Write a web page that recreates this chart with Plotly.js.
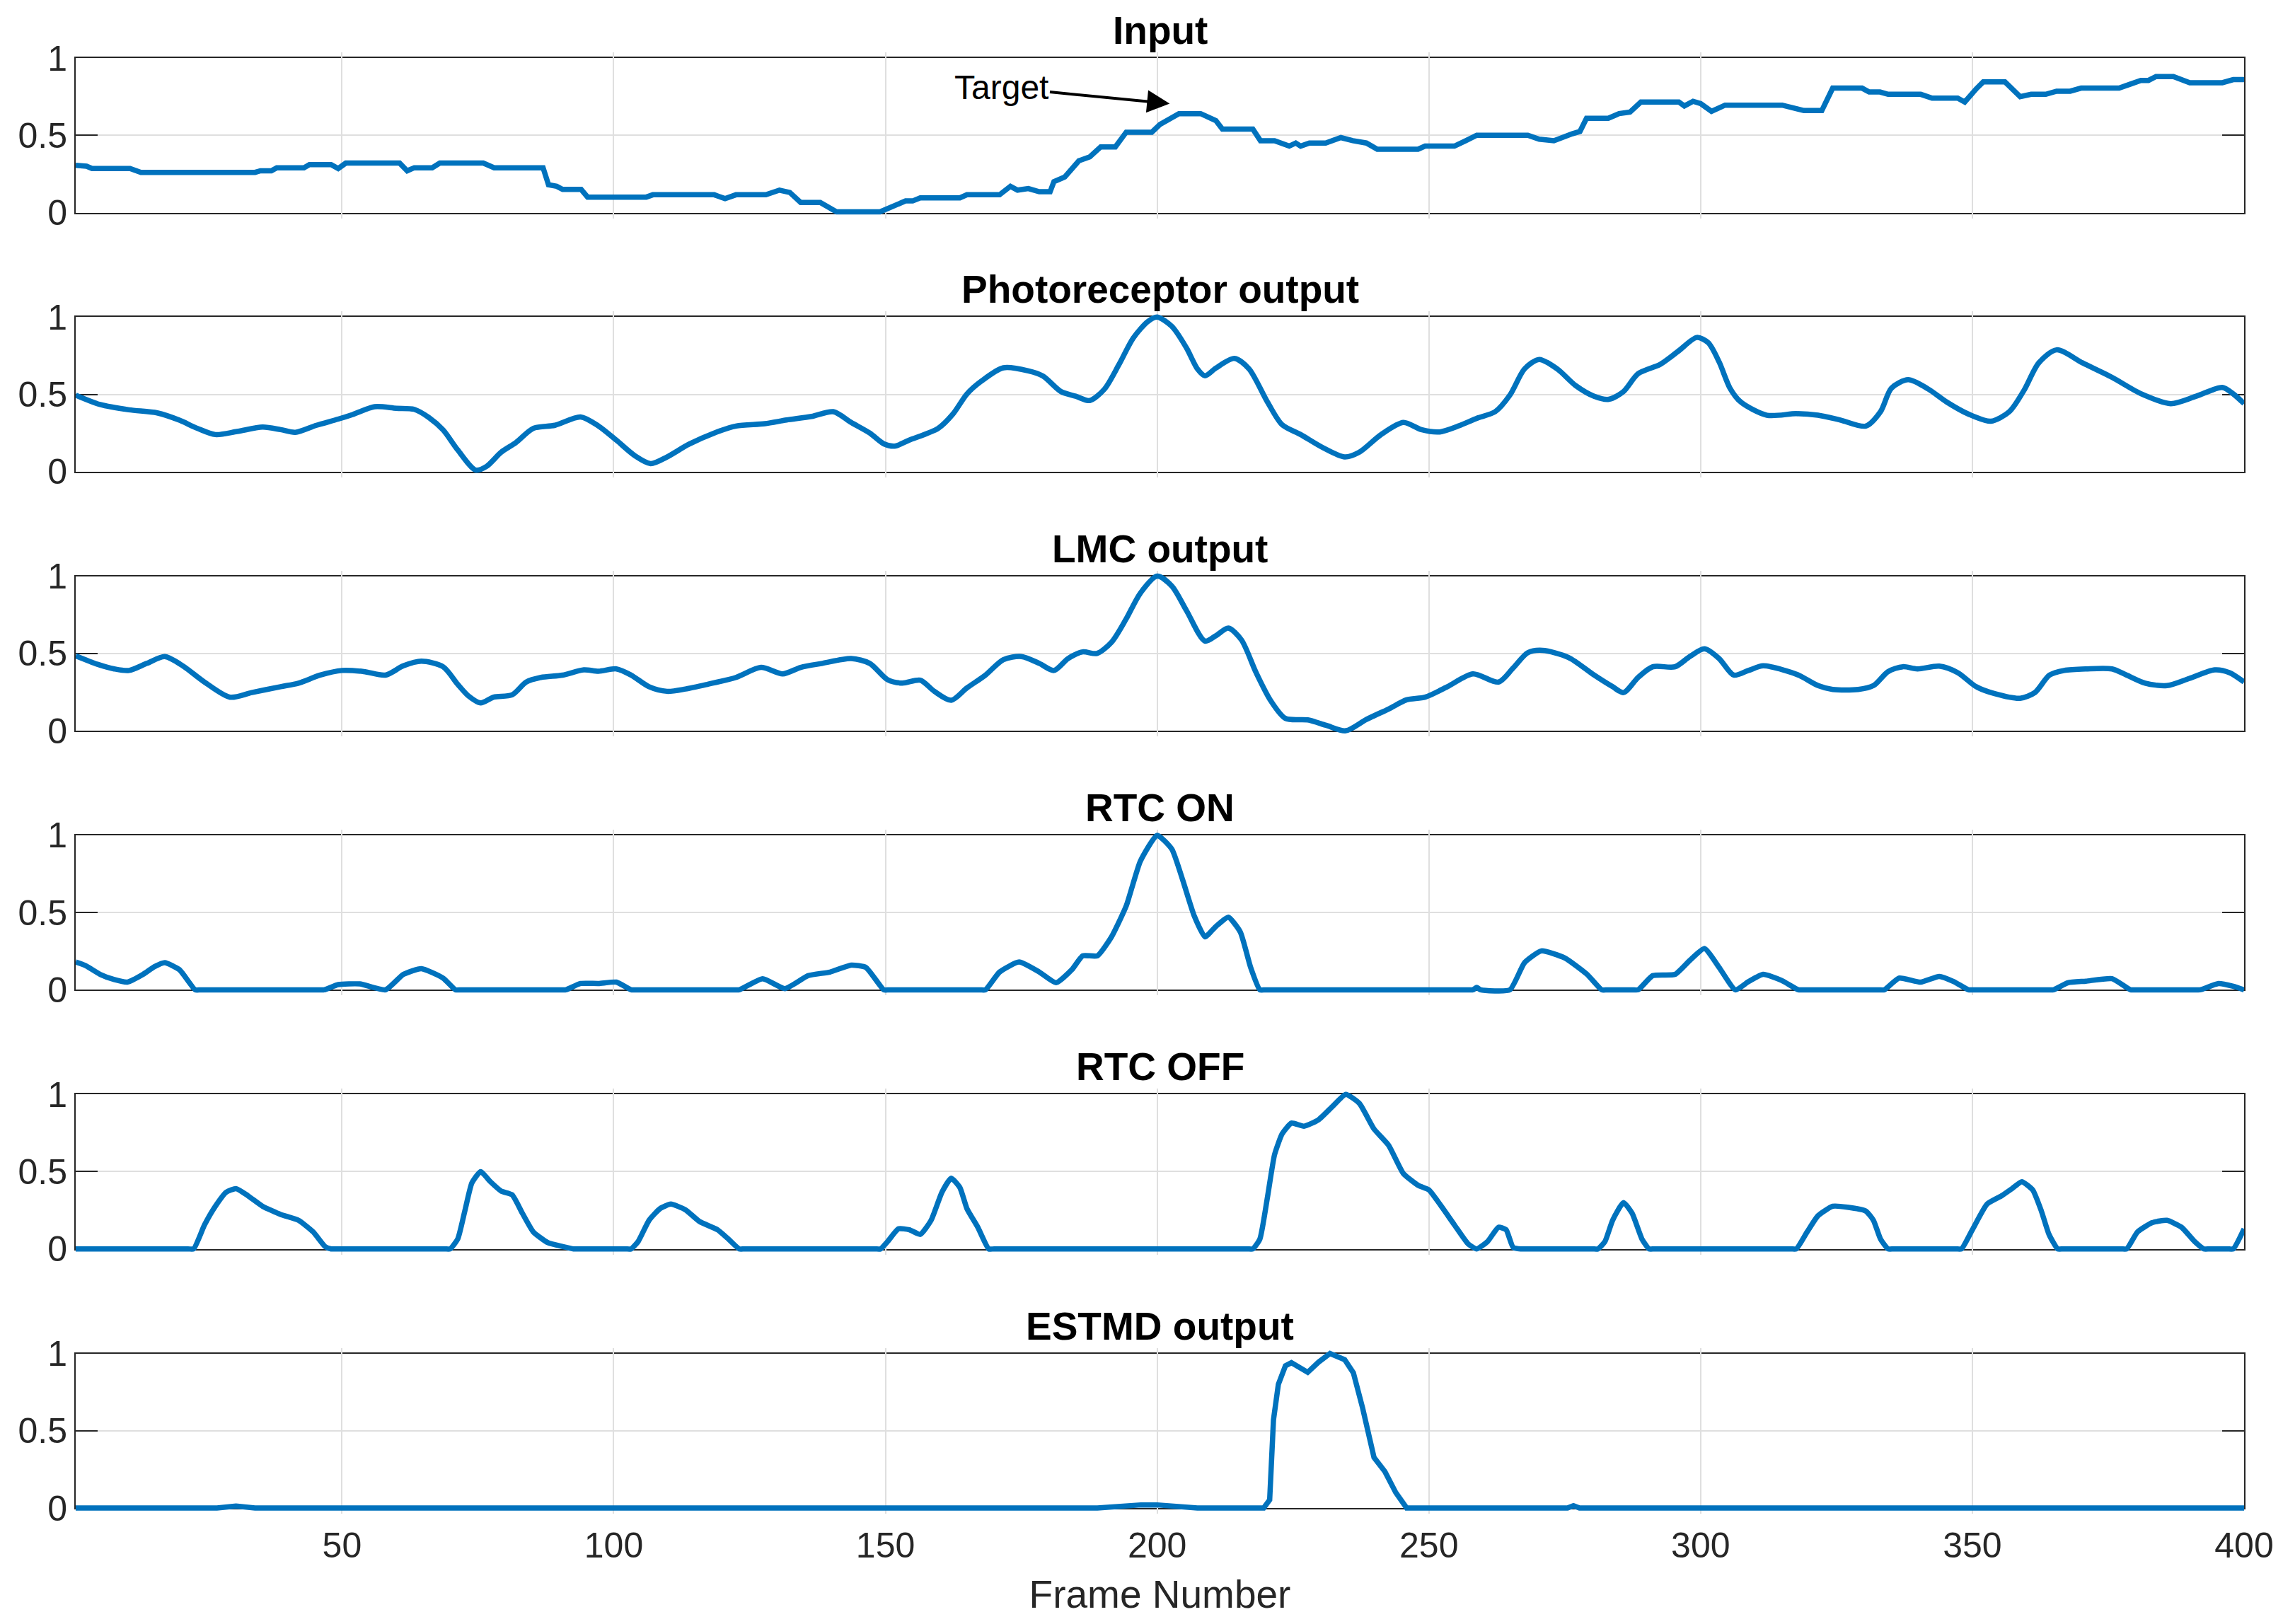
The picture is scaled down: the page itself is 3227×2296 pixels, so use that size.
<!DOCTYPE html>
<html><head><meta charset="utf-8">
<script src="https://cdn.plot.ly/plotly-3.0.1.min.js"></script>
<style>html,body{margin:0;padding:0;background:#fff}#chart{width:3227px;height:2296px}</style>
</head><body><div id="chart"></div>
<script>
const panelTitles = ['Input', 'Photoreceptor output', 'LMC output', 'RTC ON', 'RTC OFF', 'ESTMD output'];
const xTickVals = [50, 100, 150, 200, 250, 300, 350, 400];
const yTickVals = [0, 0.5, 1];
const yTickText = ['0', '0.5', '1'];
const xAxisLabel = 'Frame Number';
const arrowLabel = 'Target';

// [frame, value]
const inputPoints = [[1,0.305],[3,0.30],[4,0.285],[11,0.285],[13,0.26],[34,0.26],[35,0.27],[37,0.27],[38,0.29],[43,0.29],[44,0.31],[48,0.31],[49.3,0.285],[50.7,0.32],[60.6,0.32],[62,0.27],[63.3,0.29],[66.6,0.29],[68,0.32],[76,0.32],[78,0.29],[87,0.29],[88,0.18],[89.5,0.17],[90.6,0.15],[94,0.15],[95.2,0.1],[106,0.1],[107.2,0.115],[118.5,0.115],[120.5,0.09],[122.5,0.115],[128,0.115],[130.5,0.145],[132.4,0.13],[134.4,0.065],[138,0.065],[141,0.005],[149,0.005],[151,0.035],[153.7,0.075],[155,0.075],[156.4,0.095],[163.7,0.095],[165,0.115],[171,0.115],[173,0.17],[174.3,0.145],[176.3,0.155],[178.3,0.135],[180.3,0.135],[181,0.2],[183,0.23],[185.6,0.335],[187.6,0.36],[189.6,0.425],[192.3,0.425],[194.3,0.52],[199,0.52],[200.5,0.57],[202.5,0.61],[204,0.64],[208,0.64],[210.8,0.595],[212,0.54],[217.6,0.54],[219,0.465],[221.6,0.465],[224.3,0.43],[225.5,0.45],[226.4,0.43],[228,0.45],[231,0.45],[233.8,0.485],[236,0.465],[238.5,0.45],[240.5,0.41],[248,0.41],[249.3,0.43],[254.7,0.43],[256.8,0.465],[258.8,0.5],[268.2,0.5],[270.3,0.475],[273,0.465],[274,0.48],[276.4,0.51],[277.8,0.525],[279,0.61],[283,0.61],[285,0.64],[287,0.65],[289,0.715],[296,0.715],[297,0.69],[298.6,0.72],[300,0.705],[302,0.655],[304.5,0.695],[315,0.695],[317,0.68],[319,0.66],[322.3,0.66],[324.3,0.805],[329.7,0.805],[331,0.78],[333,0.78],[334.5,0.765],[340.5,0.765],[342.6,0.74],[347.3,0.74],[348.6,0.715],[350.7,0.8],[352,0.845],[356,0.845],[358.8,0.75],[360.8,0.765],[363.5,0.765],[365.5,0.785],[368,0.785],[370,0.805],[377,0.805],[379,0.83],[381,0.855],[382.4,0.855],[383.8,0.88],[387,0.88],[390,0.84],[396,0.84],[398,0.86],[400,0.86]];

const photoreceptorPoints = [[1,0.495],[5.5,0.434],[10.8,0.40],[16,0.38],[20,0.334],[23.4,0.28],[26.7,0.24],[30.7,0.26],[35.4,0.288],[38.7,0.272],[41.4,0.254],[45.3,0.30],[49.3,0.34],[52,0.37],[56,0.42],[60,0.41],[63.3,0.403],[66,0.35],[68.6,0.27],[71.3,0.14],[74.6,0.01],[76.6,0.034],[79.3,0.126],[82,0.188],[85.2,0.28],[89.2,0.30],[93.9,0.354],[97.2,0.295],[100.5,0.203],[103.9,0.103],[106.8,0.052],[109.8,0.095],[113.8,0.177],[118.5,0.25],[122.5,0.295],[127.8,0.31],[131.8,0.334],[136.4,0.357],[140.4,0.388],[143.7,0.318],[147.1,0.25],[149.7,0.18],[151.7,0.165],[154.3,0.203],[159.7,0.28],[162.4,0.372],[165,0.503],[167.7,0.587],[171.7,0.672],[176.3,0.652],[179,0.618],[182.3,0.518],[185,0.488],[187.6,0.46],[190.3,0.534],[193,0.695],[195.6,0.865],[198.3,0.972],[200,1.0],[202.7,0.94],[205.4,0.80],[207.4,0.665],[208.8,0.62],[210.8,0.67],[214.2,0.733],[216.9,0.665],[220.3,0.45],[223,0.303],[226.4,0.24],[230.4,0.157],[234.5,0.095],[237.2,0.126],[241.2,0.24],[245.3,0.318],[248.6,0.272],[252,0.257],[255.4,0.295],[258.8,0.345],[262.2,0.388],[264.9,0.495],[267.6,0.665],[270.3,0.726],[273.6,0.665],[277,0.557],[280.4,0.488],[283.1,0.468],[285.8,0.518],[288.5,0.634],[292.6,0.695],[295.9,0.78],[299.3,0.868],[301.4,0.834],[303.4,0.71],[305.4,0.54],[307.4,0.45],[312.2,0.365],[317.6,0.375],[321.6,0.365],[325.7,0.334],[330.4,0.295],[333.1,0.388],[335.1,0.54],[338.2,0.595],[341.9,0.534],[345.3,0.45],[349.3,0.372],[353.4,0.326],[356.8,0.388],[359.5,0.526],[362.2,0.703],[365.5,0.788],[370.3,0.703],[375.7,0.61],[381.1,0.503],[386.5,0.44],[391.2,0.488],[396,0.545],[398,0.503],[400,0.44]];

const lmcPoints = [[1,0.485],[5,0.43],[8.1,0.40],[10.8,0.39],[14.1,0.436],[17.4,0.48],[20.7,0.42],[24.7,0.315],[29.4,0.217],[33.4,0.247],[38.7,0.285],[42,0.308],[46,0.36],[50,0.39],[54,0.383],[58,0.36],[61.3,0.42],[64.6,0.45],[68.6,0.414],[71.3,0.30],[73.3,0.224],[75.5,0.18],[77.9,0.217],[81.3,0.232],[83.9,0.315],[86.6,0.345],[90.6,0.36],[94.5,0.394],[97.2,0.385],[100.5,0.40],[103.2,0.36],[106.5,0.285],[109.8,0.255],[113.2,0.27],[117.2,0.30],[122.5,0.345],[127.1,0.41],[131.1,0.368],[134.4,0.41],[138.4,0.436],[143.7,0.467],[147.1,0.436],[150.4,0.33],[153.1,0.308],[156.4,0.327],[159,0.255],[162.1,0.197],[165,0.277],[168.4,0.36],[171.7,0.46],[175,0.48],[178.3,0.436],[181,0.39],[183.6,0.467],[186.3,0.51],[188.9,0.50],[191.6,0.573],[194.3,0.724],[196.9,0.89],[200,1.0],[202.7,0.936],[205.4,0.777],[208.8,0.58],[210.8,0.615],[213.1,0.664],[215.5,0.588],[218.2,0.376],[220.9,0.194],[223.6,0.08],[227.7,0.07],[231.1,0.035],[234.7,0.0],[238.5,0.073],[242.6,0.141],[245.9,0.2],[249.3,0.217],[253.4,0.285],[258.1,0.368],[262.8,0.315],[265.5,0.406],[268.2,0.505],[270.9,0.52],[275.7,0.474],[280.4,0.36],[283.8,0.285],[285.8,0.247],[288.5,0.345],[291.2,0.414],[295.3,0.414],[298,0.48],[300.7,0.53],[303.4,0.467],[306.1,0.36],[308.8,0.39],[311.5,0.42],[315.5,0.39],[318.2,0.357],[321.6,0.292],[324.3,0.267],[329,0.267],[331.8,0.292],[334.5,0.383],[337.2,0.414],[339.9,0.40],[343.9,0.418],[347.3,0.376],[350.7,0.285],[354.1,0.24],[358.8,0.21],[361.5,0.247],[364.2,0.36],[366.9,0.39],[370.9,0.40],[375.7,0.40],[378.4,0.36],[381.8,0.308],[385.8,0.292],[389.9,0.338],[394.6,0.394],[397.3,0.376],[400,0.315]];

const rtcOnPoints = [[1,0.18],[2.8,0.157],[5.5,0.1],[8.1,0.066],[10.5,0.05],[13.4,0.1],[15.5,0.15],[17.4,0.176],[20.1,0.13],[23,0],[24,0],[45.7,0],[46.7,0],[49.3,0.034],[53.3,0.038],[58,0],[61.3,0.1],[64.6,0.137],[68.6,0.076],[70.9,0],[71.9,0],[90.2,0],[91.2,0],[93.9,0.041],[97.2,0.041],[100.5,0.05],[103.2,0],[104.2,0],[122.1,0],[123.1,0],[127.4,0.072],[131.5,0.008],[135.8,0.092],[139.8,0.115],[143.7,0.16],[146.4,0.145],[149.7,0],[150.7,0],[167.4,0],[168.4,0],[171,0.115],[174.6,0.18],[178.3,0.115],[181.4,0.046],[184.3,0.13],[186.3,0.22],[189,0.22],[191.6,0.343],[194.3,0.542],[196.9,0.832],[200,1.0],[202.7,0.91],[204.7,0.71],[206.8,0.48],[208.8,0.343],[210.8,0.41],[213.1,0.47],[215.3,0.374],[217.2,0.145],[218.9,0],[219.9,0],[257.1,0],[258.1,0],[258.8,0.015],[259.5,0],[264.9,0],[267.6,0.176],[270.7,0.252],[275,0.206],[279.1,0.1],[281.8,0],[282.8,0],[287.5,0],[288.5,0],[291.2,0.092],[295.3,0.1],[298,0.19],[300.7,0.267],[303.4,0.145],[306.4,0],[308.8,0.053],[311.5,0.1],[314.9,0.061],[318,0],[319,0],[332.8,0],[333.8,0],[336.5,0.076],[340.5,0.05],[343.9,0.087],[346.6,0.053],[349.3,0],[350.3,0],[363.9,0],[364.9,0],[367.6,0.046],[370.9,0.056],[375.7,0.072],[379.1,0],[380.1,0],[390.9,0],[391.9,0],[395.3,0.041],[398,0.023],[400,0]];

const rtcOffPoints = [[1,0],[21.7,0],[22.7,0],[24.7,0.155],[26.7,0.276],[28.7,0.367],[30.5,0.39],[32.7,0.344],[35.4,0.276],[38.7,0.223],[42,0.185],[44.7,0.11],[46.9,0.015],[48,0],[49,0],[68.9,0],[69.9,0],[71.3,0.064],[72.6,0.245],[73.9,0.427],[75.5,0.5],[77.3,0.435],[79.3,0.374],[81.3,0.35],[83.2,0.23],[85.2,0.11],[87.9,0.04],[90.6,0.015],[92.6,0],[93.6,0],[102.2,0],[103.2,0],[104.5,0.048],[106.5,0.185],[108.5,0.26],[110.5,0.29],[113.2,0.253],[115.8,0.177],[119.1,0.124],[121.1,0.064],[123.1,0],[124.1,0],[148.1,0],[149.1,0],[150.4,0.048],[152.4,0.13],[154.4,0.124],[156.4,0.094],[158.4,0.185],[160.4,0.367],[162.1,0.457],[163.7,0.397],[165,0.26],[167,0.14],[169,0],[170,0],[216.6,0],[217.6,0],[218.9,0.064],[220.3,0.336],[221.6,0.61],[223,0.745],[224.7,0.814],[227,0.794],[229.7,0.836],[232.4,0.927],[234.7,1.0],[237.2,0.942],[239.9,0.776],[242.6,0.67],[245.3,0.488],[248,0.412],[250,0.382],[252,0.29],[254.7,0.155],[257.2,0.033],[258.8,0],[260.8,0.048],[262.8,0.14],[264.2,0.124],[265.5,0.01],[266.9,0],[267.9,0],[280.1,0],[281.1,0],[282.4,0.048],[283.8,0.185],[285.8,0.3],[287.4,0.23],[289.2,0.064],[290.5,0],[291.5,0],[316.6,0],[317.6,0],[319.6,0.11],[321.6,0.215],[324.3,0.276],[327,0.27],[330.4,0.245],[331.8,0.185],[333.1,0.064],[334.5,0],[335.5,0],[347,0],[348,0],[350,0.124],[352.7,0.29],[355.4,0.344],[357.3,0.39],[359.1,0.435],[361.1,0.382],[362.7,0.245],[364.1,0.094],[365.7,0],[366.7,0],[377.4,0],[378.4,0],[380.4,0.11],[383.1,0.17],[385.8,0.185],[388.5,0.14],[390.9,0.048],[392.6,0],[393.6,0],[397,0],[398,0],[400,0.13]];

const estmdPoints = [[1,0],[27,0],[30.5,0.012],[34,0],[189,0],[193,0.012],[197,0.02],[200,0.02],[203.4,0.01],[207.4,0],[219.6,0],[220.7,0.053],[221.4,0.57],[222.3,0.8],[223.6,0.92],[224.7,0.94],[227.7,0.878],[229.7,0.944],[231.8,1.0],[234.5,0.96],[236.1,0.875],[237.8,0.647],[239.9,0.327],[241.9,0.236],[243.9,0.1],[245.9,0],[275.5,0],[276.6,0.015],[277.7,0],[400,0]];

const targetHead = [202.3, 0.705];
const targetText = [171.4, 0.81];

const seriesList = [inputPoints, photoreceptorPoints, lmcPoints, rtcOnPoints, rtcOffPoints, estmdPoints];
const lineShapes = ['linear', 'spline', 'spline', 'spline', 'spline', 'linear'];
const lineSmoothing = [1, 0.8, 0.8, 0.5, 0.5, 1];

const lineColor = '#0072BD';
const axisColor = '#262626';
const gridColor = '#dfdfdf';
const fontFamily = 'Liberation Sans, Arial, Helvetica, sans-serif';

// layout geometry (pixels)
const W = 3227, H = 2296;
const mT = 60, mB = 140;
const areaH = H - mT - mB;
const firstTop = 82, panelPx = 218.5, stepPx = 366.3, padPx = 8;
const frac = px => (H - mB - px) / areaH;

const baseTraces = [];
const lineTraces = [];
const layout = {
  width: W, height: H,
  margin: {l: 107, r: 55, t: mT, b: mB},
  paper_bgcolor: '#ffffff', plot_bgcolor: 'rgba(0,0,0,0)',
  showlegend: false,
  font: {family: fontFamily, color: axisColor},
  annotations: []
};

seriesList.forEach((pts, i) => {
  const n = i + 1;
  const xName = n === 1 ? 'x' : 'x' + n;
  const yName = n === 1 ? 'y' : 'y' + n;
  const yTr = 'y' + (n + 6);
  const topPx = firstTop + i * stepPx;
  const botPx = topPx + panelPx;
  const top = frac(topPx), bottom = frac(botPx);
  const pad = padPx / panelPx;

  const xa = {
    domain: [0, 1], range: [1, 400], anchor: yName,
    tickmode: 'array', tickvals: xTickVals, ticktext: xTickVals.map(String),
    showticklabels: n === 6, ticklabelstandoff: 8,
    ticks: 'inside', ticklen: 31, tickwidth: 2, tickcolor: axisColor,
    showline: true, linecolor: axisColor, linewidth: 2, mirror: 'ticks',
    showgrid: true, gridcolor: gridColor, gridwidth: 2, zeroline: false,
    tickfont: {family: fontFamily, size: 50, color: axisColor},
    fixedrange: true
  };
  if (n === 6) {
    xa.title = {text: xAxisLabel, font: {family: fontFamily, size: 55, color: axisColor}, standoff: 22};
  }
  const ya = {
    domain: [bottom, top], range: [0, 1], anchor: xName,
    tickmode: 'array', tickvals: yTickVals, ticktext: yTickText,
    ticks: 'inside', ticklen: 31, tickwidth: 2, tickcolor: axisColor,
    showline: true, linecolor: axisColor, linewidth: 2, mirror: 'ticks',
    showgrid: true, gridcolor: gridColor, gridwidth: 2, zeroline: false,
    tickfont: {family: fontFamily, size: 50, color: axisColor},
    fixedrange: true
  };
  // trace axis: same scale, slightly taller domain so the thick line is not cut at 0 and 1
  const yt = {
    domain: [frac(botPx + padPx), frac(topPx - padPx)], range: [-pad, 1 + pad], anchor: 'free', position: 0,
    visible: false, showgrid: false, zeroline: false, fixedrange: true
  };
  layout['xaxis' + (n === 1 ? '' : n)] = xa;
  layout['yaxis' + (n === 1 ? '' : n)] = ya;
  layout['yaxis' + (n + 6)] = yt;

  baseTraces.push({
    type: 'scatter', mode: 'lines', x: [null], y: [null],
    xaxis: xName, yaxis: yName, hoverinfo: 'skip', showlegend: false
  });
  lineTraces.push({
    type: 'scatter', mode: 'lines',
    x: pts.map(p => p[0]), y: pts.map(p => p[1]),
    xaxis: xName, yaxis: yTr,
    line: {color: lineColor, width: 7.5, shape: lineShapes[i], smoothing: lineSmoothing[i]},
    hoverinfo: 'skip', showlegend: false
  });

  layout.annotations.push({
    xref: 'paper', yref: 'paper', x: 0.5, y: top, xanchor: 'center', yanchor: 'bottom',
    yshift: 6, showarrow: false, text: '<b>' + panelTitles[i] + '</b>',
    font: {family: fontFamily, size: 55, color: '#000'}
  });
});

layout.annotations.push({
  xref: 'x', yref: 'y', x: targetHead[0], y: targetHead[1],
  axref: 'x', ayref: 'y', ax: targetText[0], ay: targetText[1],
  text: arrowLabel, showarrow: true, arrowhead: 2, arrowsize: 1.6, arrowwidth: 4,
  arrowcolor: '#000', standoff: 0,
  font: {family: fontFamily, size: 48, color: '#000'}
});

Plotly.newPlot('chart', baseTraces.concat(lineTraces), layout, {staticPlot: true, displayModeBar: false});
</script>
</body></html>
